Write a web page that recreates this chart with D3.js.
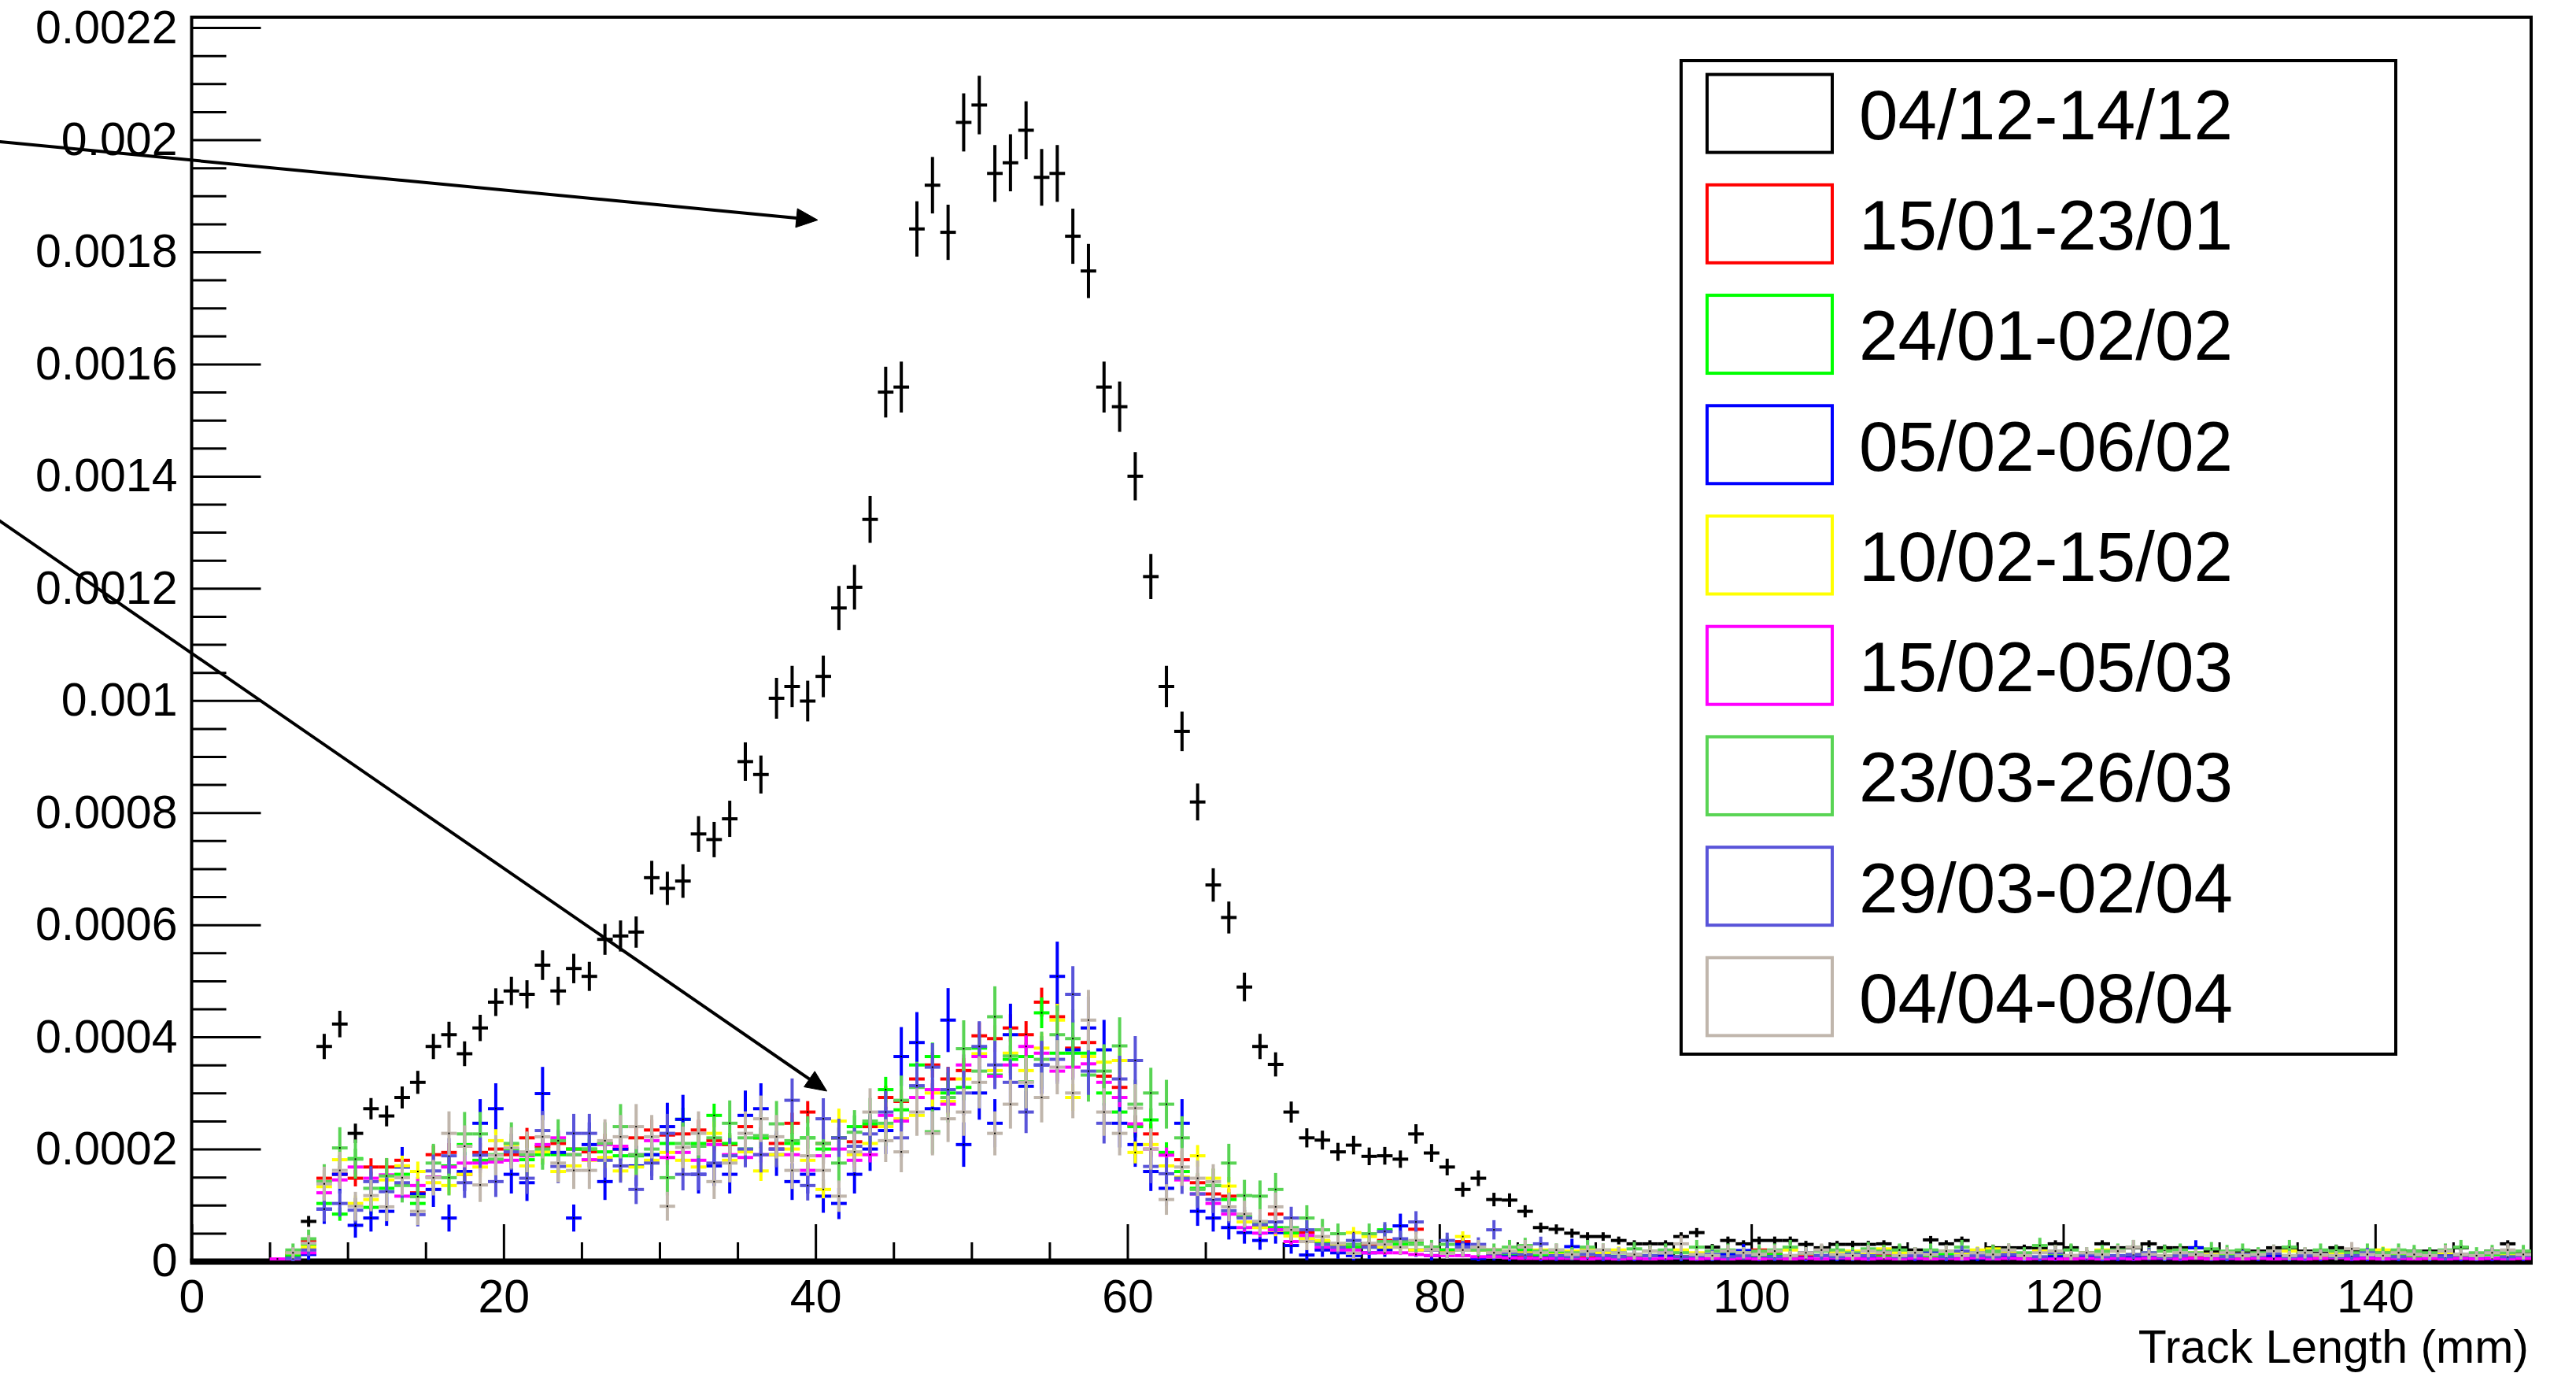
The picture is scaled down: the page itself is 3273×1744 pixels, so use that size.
<!DOCTYPE html>
<html><head><meta charset="utf-8">
<script src="https://cdn.jsdelivr.net/npm/d3@7"></script>
<style>
html,body{margin:0;padding:0;background:#fff;}
svg{display:block;}
text{font-family:"Liberation Sans",Arial,Helvetica,sans-serif;fill:#000;}
</style>
</head><body>
<svg id="chart" width="3273" height="1744"></svg>
<script>
// ---------------- DATA ----------------
// Histogram: 150 bins of 1 mm from 0 to 150 mm. Values below are in units of 1e-5.
const UNIT = 1e-5;
const X_MIN = 0, X_MAX = 150, N_BINS = 150;
const Y_MAX = 0.0022187;

const xTickValues = [0, 20, 40, 60, 80, 100, 120, 140];
const xTickLabels = ["0", "20", "40", "60", "80", "100", "120", "140"];
const yTickValues = [0, 0.0002, 0.0004, 0.0006, 0.0008, 0.001, 0.0012, 0.0014, 0.0016, 0.0018, 0.002, 0.0022];
const yTickLabels = ["0", "0.0002", "0.0004", "0.0006", "0.0008", "0.001", "0.0012", "0.0014", "0.0016", "0.0018", "0.002", "0.0022"];
const xAxisTitle = "Track Length (mm)";

const seriesNames = ["04/12-14/12", "15/01-23/01", "24/01-02/02", "05/02-06/02", "10/02-15/02",
                     "15/02-05/03", "23/03-26/03", "29/03-02/04", "04/04-08/04"];
const seriesColors = ["#000000", "#ff0000", "#00ff00", "#0000ff", "#ffff00",
                      "#ff00ff", "#59d454", "#5954d9", "#c0b6ac"];
// statistical error scale per series: err = scale * sqrt(value)
const errScale = [1.15e-3, 1.2e-3, 1.3e-3, 2.75e-3, 1.4e-3, 1.0e-3, 2.6e-3, 2.3e-3, 2.6e-3];

const s0412 = [
  0,0,0,0,0,0,1.5,7.1,38.3,42.3,
  22.8,27.2,25.9,29.2,31.9,38.3,40.4,37.0,41.6,46.2,
  48.2,47.6,52.8,48.2,52.2,50.8,57.4,58.0,58.7,68.4,
  66.5,67.8,76.2,75.2,78.9,89.1,86.8,100.4,102.5,99.9,
  104.3,116.5,120.2,132.3,155.0,155.9,184.1,191.9,183.5,203.1,
  206.2,194.0,195.9,201.7,193.3,194.0,182.8,176.6,155.9,152.4,
  140.0,122.1,102.5,94.5,81.9,67.1,61.3,48.9,38.3,35.1,
  26.6,22.0,21.6,19.5,20.7,18.7,18.8,18.2,22.7,19.3,
  16.8,12.8,14.8,11.0,10.9,8.9,6.0,5.7,5.0,4.4,
  4.4,3.7,3.1,3.1,3.1,4.4,5.1,2.5,3.7,3.1,
  3.7,3.7,3.7,3.0,2.4,3.0,3.0,3.0,3.1,2.4,
  2.0,3.8,3.1,3.7,1.8,2.4,2.4,2.4,2.4,3.1,
  2.4,1.5,3.1,2.4,2.4,3.1,2.4,2.4,2.4,1.8,
  1.2,1.8,1.8,2.4,2.4,1.8,1.4,2.4,1.8,1.8,
  1.8,1.8,1.8,1.8,1.8,2.4,0.6,1.8,3.1,1.3];

const s1501 = [
  0,0,0,0,0,0,1,3.5,14.8,15.5,
  14.8,16.8,16.8,18,12.2,19,19.4,15.5,19.4,20,
  19,22,20.5,21,20,19.5,21,20,22,23.4,
  22.5,22.7,23.4,21.5,20.8,24,22,21,24.6,26.6,
  21,22,21.3,24,29.2,28.5,32.5,35,32.5,34,
  40.2,39.7,41.6,40.4,46.2,43.6,38,39,33,31,
  24.1,22.7,19,18.1,14,12,11.6,8,6.3,8.4,
  5,5.1,3.5,3,2.5,3,3.7,3.5,5.7,2.5,
  2,3.5,2,2,1.5,1,1.2,0.8,1,0.6,
  1.2,0.8,0.5,1,1.4,0.8,1.4,0.6,0.8,1,
  2,1.5,0.6,0.8,1,0.6,0.5,0.8,1,0.6,
  0.8,0.5,0.6,0.8,1,0.5,0.6,0.8,0.5,0.6,
  0.5,0.8,1,0.6,0.5,0.6,0.5,0.8,0.6,0.5,
  0.6,0.5,0.6,0.8,0.5,0.6,0.5,0.8,0.6,0.5,
  0.6,0.5,0.6,0.5,0.6,0.5,0.8,0.5,1,0.5];

const s2401 = [
  0,0,0,0,0,0,1,3,10.3,8.4,
  18.3,9.6,13,15.5,10.3,15,17,20.8,18,19,
  20,18.1,19,19,20,20,19.5,18.8,18.8,19,
  21,25.3,21,26,21,20,22,20,21,22,
  20,22,24,24.5,30.6,27,35,36.5,30,31,
  38,33.2,36,36.5,44.3,37.1,37.1,37.1,30,26.6,
  24,25.2,19.4,16,13,13.5,11,8,7,6,
  5,4,3.5,3,2.5,2.5,5.6,3,3.5,2.5,
  2,2,2,1.5,1.2,2,1,1.5,0.8,1.2,
  1,1.5,0.8,1,1.2,1.8,0.8,1,1.5,0.8,
  1,1.2,0.8,1.5,1,0.8,1.2,1,0.8,1.5,
  1,0.8,1.2,0.6,1,1.5,0.8,1,0.6,1.2,
  0.8,1,1.2,0.8,1,0.6,0.8,1,1.2,0.8,
  1,0.6,0.8,1.2,1,0.8,0.6,1,0.8,1.5,
  0.8,1,0.6,0.8,1,0.8,0.6,1.2,0.8,0.6];

const s0502 = [
  0,0,0,0,0,0,0.5,1.2,9.3,15.5,
  6.4,7.7,8.9,16.8,12,12.8,7.7,16,24.6,27.2,
  15.5,14,29.9,19.4,7.7,20.8,14.2,20,17,19,
  24,25.3,15.5,17,15.5,26,27.2,19,14.2,15.5,
  11.6,10.3,15.5,20,23.3,36.5,39,27.2,43,20.8,
  30,24.6,40.4,31.2,35,50.8,37.7,41.6,37.7,24.6,
  20.8,16,13,24.6,8.9,7.7,6,5.1,3.7,5.1,
  2.8,1.1,2,1.5,1,1.5,2,6.3,2,1,
  1.5,3,0.5,1,0.8,1.5,0.6,0.8,2.6,2.4,
  0.6,0.8,0.5,0,1,0.6,0.8,0.5,1.2,1.9,
  0.5,0.8,0,0.6,1,0.5,0.8,0.6,0,1,
  0.5,1.7,0.6,0.8,0.5,0,1,0.6,0.5,0.8,
  0,1,0.6,0.5,0.8,1,0.5,0.6,2.4,0.8,
  0.5,0,0.6,1,0.5,0.8,0.6,0,0.5,0.6,
  0.8,0.5,0,0.6,1,0.5,0.6,0.5,0,0.6];

const s1002 = [
  0,0,0,0,0,0,1.5,2.5,13.3,18.1,
  10.3,11,14.5,17,16,14,13.5,15.5,16.8,21.5,
  20.8,17,19.5,16,17,18,18.5,16.1,16.8,18,
  19.4,18,16.8,22.8,18,19.5,16.1,19,20,18,
  12.8,25,19,21,24,25.4,26,30,28.5,32.5,
  37,34,37.1,34,38,43,29.2,36.5,35.5,35.8,
  19.4,20.8,17,15,18.8,14.8,13.4,7,6,5.5,
  4.5,4,3.7,3,5.1,4.4,2.5,2.5,2,2,
  1.5,4.4,2,1.5,1.8,1.5,2,1.2,1.8,2.2,
  1.5,2,1.2,1.8,1.5,2,1.5,1,1.8,1.5,
  1.2,1.8,2,1.5,1,1.5,1.8,1.2,2.2,1.5,
  1.5,1.2,1.8,1.5,2,2.2,1.5,1,1.8,1.5,
  1,1.5,2,1.8,1.2,1.5,1.8,1,1.5,1.2,
  1.5,1.2,1,1.5,1.8,1.2,1,1.5,1.2,1.8,
  2,1.5,1.2,1,1.5,1.2,1,1.5,1.2,1];

const s1502 = [
  0,0,0,0,0,0.4,0.4,1.5,12.2,14.5,
  16.8,14.8,15.4,11.6,13.5,15,16.8,17.5,17.5,17.7,
  18,18.8,20.8,22,19,18.1,20.8,20.5,19,21.5,
  18.5,19.4,18,20.8,19,18.5,19,20,19,16.2,
  18.8,20,18,19,26,25,29.2,30.6,28,35,
  36.5,33,35,38.3,37.1,33.9,34.6,35.2,31.9,29.2,
  24.5,20,18.9,14.5,12,10.3,8.4,6,5,5.6,
  3.5,4.6,2.5,2,2,1.5,1.5,1.5,1.2,1,
  1,1,0.8,0.8,0.6,0.5,0.5,0.5,0.5,0.4,
  0.5,0.4,0.5,0.4,0.5,0.6,0.4,0.5,0.4,0.5,
  0.4,0.5,0.4,0.5,0.4,0.6,0.5,0.4,0.5,0.4,
  0.5,0.4,0.5,0.4,0.6,0.4,0.5,0.4,0.5,0.4,
  0.4,0.5,0.4,0.5,0.4,0.5,0.6,0.4,0.5,0.4,
  0.5,0.4,0.5,0.4,0.5,0.4,0.5,0.6,0.4,0.5,
  0.4,0.5,0.4,0.5,0.4,0.5,0.4,0.5,0.4,0.5];

const s2303 = [
  0,0,0,0,0,0,2,4,14.2,20.2,
  18.2,13,15.2,13.5,11.5,17.5,14.9,22.7,22.7,18.2,
  21,19,20,21.5,19,20,21,24,19,20,
  14.9,21,20.5,22,24.6,22,22.4,24.5,21.5,22,
  21,17.5,23,25,24.6,28.7,31,23.1,29.2,37.9,
  33.9,43.6,36.6,32,36,40.4,39.7,33.2,33.9,38.4,
  28,30,28,22,12.8,13.5,17.5,11.7,11.6,12.8,
  6,7.7,5.6,4.9,3,4.9,3.5,3.5,3,2.5,
  3,2,2,2,2.5,2.8,1.8,2,1.5,2.5,
  2,1.5,2.2,1.8,2,1.5,2.5,1.8,2,1.5,
  1.8,2,2.5,1.5,1.8,2,1.5,2.2,1.8,2,
  1.5,2,1.8,2.5,1.5,1.8,2,1.5,2.8,1.8,
  2,1.5,1.8,2,2.5,1.5,1.8,2,1.5,2.2,
  1.8,2,1.5,1.8,2.5,1.5,2,1.8,1.5,2,
  1.5,2,1.8,1.5,2,2.5,1.5,1.8,1.5,1.8];

const s2903 = [
  0,0,0,0,0,0,0.5,2,9.3,10.3,
  9.1,14.2,12.4,14,8.3,16.1,18.8,14,18.9,14.2,
  19.5,14.8,23.3,16.9,22.8,22.8,18,17,12.8,17.5,
  22.8,15.5,15.5,17.5,18.8,20,19,20,28.7,13.5,
  25.4,22,20.5,22.7,26.6,22,31.3,34.6,30.6,30,
  38.3,35,31.9,26.6,35,36,47.6,33.9,24.6,32.5,
  35.8,16.9,15.6,14.8,12,11,9,7.7,6.5,7,
  7.7,5.6,3,2.5,3.7,2.5,5.3,4,7,2,
  3.7,2.5,3,5.6,1.5,1.2,3.1,1,0.8,1.2,
  1,0.8,1.2,1,1.5,0.8,1,1.2,0.8,1,
  1.2,0.8,1,1.5,1,0.8,1.2,1,1.5,0.8,
  1,1.2,0.8,1.8,1,0.8,1.2,1,0.8,1.5,
  1,1.2,0.8,1,1.2,1.5,0.8,1,1.2,1,
  0.8,1.2,1,1.5,0.8,1,1.2,0.8,1,1.5,
  1,0.8,1.2,1,0.8,1.2,1,1.5,0.8,1];

const s0404 = [
  0,0,0,0,0,0,1.5,3.2,13.8,16.2,
  9.8,11.7,9.7,14.9,8.9,14.9,22.8,20.5,13.6,18.9,
  20.2,19.5,22.2,17.5,16.2,16.2,21.5,22.2,24,22.2,
  9.8,20.3,22.8,14.2,17.5,22.8,25.4,22.2,16.2,18.8,
  16.2,11.6,19.5,26.6,21.5,19.5,26.6,22.8,25.4,26.6,
  31.9,22.8,28,31.9,29.2,34.6,30,43,26.6,22.8,
  27.3,20,11,16.8,14.8,14.2,9.7,8.4,7.1,9.7,
  5.6,3.5,4.4,3.2,1.4,3.2,3,2.5,3.7,2.1,
  1.4,2,2.5,1.5,1.8,2.5,1.5,2,1.2,1.8,
  2,1.5,1.2,1.8,1.5,3.1,1.2,1,1.8,1.5,
  1.2,1.8,1,1.5,2,1.2,1,1.8,1.5,1,
  1.5,1.2,1.8,1,1.5,1.2,2,1,1.5,1.8,
  1,1.5,1.2,1.8,2.5,1.2,1,1.5,1.2,1,
  1.5,1,1.2,1.8,1,1.5,1.2,1,2.2,1.2,
  1,1.5,1.2,1,1.8,1.2,1,1.5,2,1.2];

const seriesValues = [s0412, s1501, s2401, s0502, s1002, s1502, s2303, s2903, s0404];

// annotation arrows (data coordinates)
const arrowX1 = [-12.35, -12.35];
const arrowY1 = [0.0019966, 0.0013212];
const arrowX2 = [40.14, 40.73];
const arrowY2 = [0.0018569, 0.0003033];

// ---------------- DRAW ----------------
const W = 3273, H = 1744;
const M = {left: 243.5, right: 3216, top: 21.8, bottom: 1602};
const svg = d3.select("#chart");
svg.append("rect").attr("width", W).attr("height", H).attr("fill", "#fff");

const x = d3.scaleLinear().domain([X_MIN, X_MAX]).range([M.left, M.right]);
const y = d3.scaleLinear().domain([0, Y_MAX]).range([M.bottom, M.top]);
const binW = (X_MAX - X_MIN) / N_BINS;

const FS = 59;

// minor ticks
const yMinor = d3.range(0, Y_MAX + 1e-9, 0.00005).filter(v => Math.abs(v / 0.0002 - Math.round(v / 0.0002)) > 1e-6);
const xMinor = d3.range(0, X_MAX + 1e-9, 5).filter(v => v % 20 !== 0);

const gYMinor = svg.append("g").attr("transform", `translate(${M.left},0)`)
  .call(d3.axisLeft(y).tickValues(yMinor).tickSize(-44).tickFormat(""));
const gYMajor = svg.append("g").attr("transform", `translate(${M.left},0)`)
  .call(d3.axisLeft(y).tickValues(yTickValues).tickSize(-88).tickPadding(18)
        .tickFormat((d, i) => yTickLabels[i]));
const gXMinor = svg.append("g").attr("transform", `translate(0,${M.bottom})`)
  .call(d3.axisBottom(x).tickValues(xMinor).tickSize(-24).tickFormat(""));
const gXMajor = svg.append("g").attr("transform", `translate(0,${M.bottom})`)
  .call(d3.axisBottom(x).tickValues(xTickValues).tickSize(-47).tickPadding(23)
        .tickFormat((d, i) => xTickLabels[i]));

[gYMinor, gYMajor, gXMinor, gXMajor].forEach(g => {
  g.select(".domain").remove();
  g.selectAll(".tick line").attr("stroke", "#000").attr("stroke-width", 3);
  g.selectAll(".tick text").attr("font-size", FS).attr("fill", "#000")
    .style("font-family", '"Liberation Sans",Arial,Helvetica,sans-serif');
});

// frame
svg.append("rect").attr("x", M.left).attr("y", M.top)
  .attr("width", M.right - M.left).attr("height", M.bottom - M.top)
  .attr("fill", "none").attr("stroke", "#000").attr("stroke-width", 4);
svg.append("line").attr("x1", M.left - 2).attr("x2", M.right + 2)
  .attr("y1", M.bottom + 0.5).attr("y2", M.bottom + 0.5)
  .attr("stroke", "#000").attr("stroke-width", 8);

// axis title
svg.append("text").attr("x", 3213).attr("y", 1731).attr("text-anchor", "end")
  .attr("font-size", FS).text(xAxisTitle);

// series
const plot = svg.append("g");
seriesValues.forEach((vals, si) => {
  const pts = [];
  vals.forEach((v, i) => {
    if (v > 0) {
      const val = v * UNIT;
      const err = errScale[si] * Math.sqrt(val);
      pts.push({x0: X_MIN + i * binW, x1: X_MIN + (i + 1) * binW, xc: X_MIN + (i + 0.5) * binW,
                v: val, lo: Math.max(0, val - err), hi: Math.min(Y_MAX, val + err)});
    }
  });
  const g = plot.append("g").attr("stroke", seriesColors[si]).attr("stroke-width", 4);
  g.selectAll("line.h").data(pts).join("line").attr("class", "h")
    .attr("x1", d => x(d.x0)).attr("x2", d => x(d.x1))
    .attr("y1", d => y(d.v)).attr("y2", d => y(d.v));
  g.selectAll("line.v").data(pts).join("line").attr("class", "v")
    .attr("x1", d => x(d.xc)).attr("x2", d => x(d.xc))
    .attr("y1", d => y(d.lo)).attr("y2", d => y(d.hi));
  plot.append("g").selectAll("rect").data(pts).join("rect")
    .attr("x", d => x(d.xc) - 1).attr("y", d => y(d.v) - 1)
    .attr("width", 2).attr("height", 2).attr("fill", "#000");
});

// legend
const LG = {x: 2136, y: 77, w: 908, h: 1262};
svg.append("rect").attr("x", LG.x).attr("y", LG.y).attr("width", LG.w).attr("height", LG.h)
  .attr("fill", "#fff").attr("stroke", "#000").attr("stroke-width", 4);
const entryH = LG.h / seriesNames.length;
const leg = svg.append("g").selectAll("g").data(seriesNames).join("g")
  .attr("transform", (d, i) => `translate(0,${LG.y + entryH * (i + 0.5) - 3})`);
leg.append("rect").attr("x", 2169).attr("y", -49.5).attr("width", 159).attr("height", 99)
  .attr("fill", "none").attr("stroke", (d, i) => seriesColors[i]).attr("stroke-width", 4);
leg.append("text").attr("x", 2362).attr("y", 0.37 * 89).attr("font-size", 89).text(d => d);

// arrows
arrowX1.forEach((_, i) => {
  const ax1 = x(arrowX1[i]), ay1 = y(arrowY1[i]), ax2 = x(arrowX2[i]), ay2 = y(arrowY2[i]);
  const ang = Math.atan2(ay2 - ay1, ax2 - ax1);
  const L = 27, Wd = 12;
  const bx = ax2 - L * Math.cos(ang), by = ay2 - L * Math.sin(ang);
  svg.append("line").attr("x1", ax1).attr("y1", ay1).attr("x2", bx).attr("y2", by)
    .attr("stroke", "#000").attr("stroke-width", 4);
  const p1 = [bx + Wd * Math.sin(ang), by - Wd * Math.cos(ang)];
  const p2 = [bx - Wd * Math.sin(ang), by + Wd * Math.cos(ang)];
  svg.append("path").attr("d", `M${ax2},${ay2}L${p1[0]},${p1[1]}L${p2[0]},${p2[1]}Z`)
    .attr("fill", "#000").attr("stroke", "#000").attr("stroke-width", 1);
});
</script>
</body></html>
